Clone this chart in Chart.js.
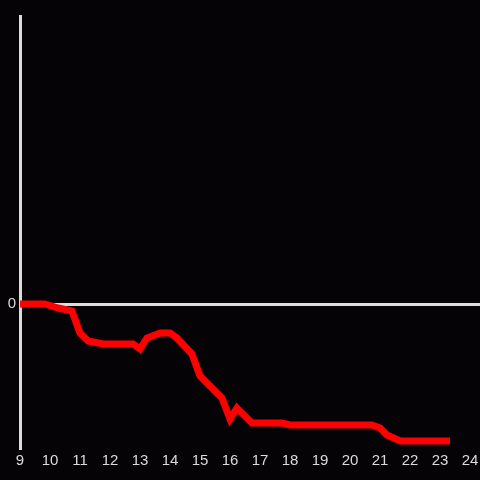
<!DOCTYPE html>
<html>
<head>
<meta charset="utf-8">
<script src="https://cdn.jsdelivr.net/npm/chart.js@4"></script>
<style>
  html, body { margin: 0; padding: 0; background: #050306; }
  canvas { display: block; }
</style>
</head>
<body>
<canvas id="chart" width="480" height="480"></canvas>
<script>
// hours of the day (x) and values (y)
const hours = [9, 9.83, 10.27, 10.73, 11, 11.27, 11.77, 12.77, 13, 13.23, 13.67, 14, 14.23, 14.73, 15, 15.73, 16, 16.23, 16.73, 17.73, 18, 20.73, 21, 21.23, 21.67, 23.33];
const values = [0, 0, -0.04, -0.07, -0.29, -0.37, -0.4, -0.4, -0.45, -0.34, -0.29, -0.29, -0.34, -0.5, -0.72, -0.94, -1.15, -1.04, -1.19, -1.19, -1.21, -1.21, -1.24, -1.31, -1.37, -1.37];
const xTicks = [9, 10, 11, 12, 13, 14, 15, 16, 17, 18, 19, 20, 21, 22, 23, 24];
const yTicks = [0];

const axisColor = "#dcdcdc";

const data = {
  datasets: [
    {
      label: "series",
      data: hours.map((h, i) => ({ x: h, y: values[i] })),
      borderColor: "#ff0000",
      backgroundColor: "#ff0000",
      borderWidth: 7,
      pointRadius: 0,
      tension: 0,
    },
  ],
};

const config = {
  type: "line",
  data: data,
  options: {
    responsive: false,
    animation: false,
    layout: { padding: { top: 16, right: 0, left: 0, bottom: 0 } },
    plugins: { legend: { display: false }, tooltip: { enabled: false } },
    scales: {
      x: {
        type: "linear",
        min: 9,
        max: 24.33,
        afterBuildTicks: (scale) => {
          scale.ticks = xTicks.map((v) => ({ value: v }));
        },
        afterFit: (scale) => {
          scale.height = 32;
          // no extra room for the last label
          scale.paddingLeft = 0;
          scale.paddingRight = 0;
        },
        ticks: {
          color: axisColor,
          font: { family: "Liberation Sans", size: 15 },
          padding: 4,
          maxRotation: 0,
          autoSkip: false,
        },
        grid: { display: false, drawTicks: false },
        border: { display: false },
      },
      y: {
        min: -1.44,
        max: 2.88,
        afterBuildTicks: (scale) => {
          scale.ticks = yTicks.map((v) => ({ value: v }));
        },
        afterFit: (scale) => {
          scale.width = 20;
        },
        ticks: {
          color: axisColor,
          font: { family: "Liberation Sans", size: 15 },
          padding: 4,
        },
        grid: { color: axisColor, lineWidth: 3, drawTicks: false },
        border: { display: true, color: axisColor, width: 3 },
      },
    },
  },
};

const chart = new Chart(document.getElementById("chart"), config);
</script>
</body>
</html>
